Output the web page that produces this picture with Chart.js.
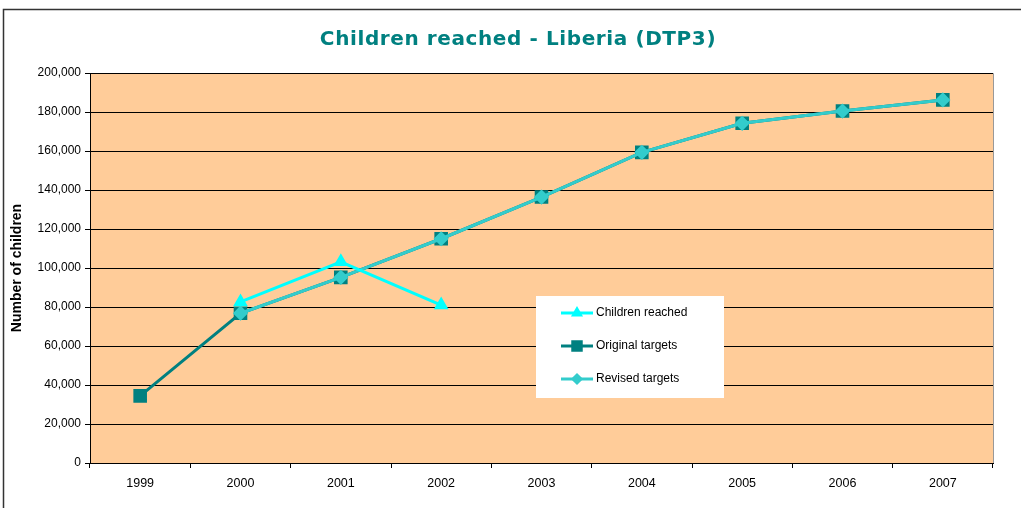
<!DOCTYPE html>
<html>
<head>
<meta charset="utf-8">
<script src="https://cdn.jsdelivr.net/npm/chart.js@4/dist/chart.umd.min.js"></script>
<style>
  html, body { margin: 0; padding: 0; background: #fff; }
  #wrap { width: 1021px; height: 508px; position: relative; }
</style>
</head>
<body>
<div id="wrap"><canvas id="chart" width="1021" height="508"></canvas></div>
<script>
"use strict";
const YEARS = ["1999", "2000", "2001", "2002", "2003", "2004", "2005", "2006", "2007"];
const CHILDREN_REACHED = [null, 82600, 103200, 81000, null, null, null, null, null];
const ORIGINAL_TARGETS = [34400, 76800, 95200, 115000, 136400, 159300, 174200, 180500, 186200];
const REVISED_TARGETS = [null, 76800, 95200, 115000, 136400, 159300, 174200, 180500, 186200];

const TITLE = "Children reached - Liberia (DTP3)";
const Y_TITLE = "Number of children";

// plot background, frame, titles and legend box
const decor = {
  id: "decor",
  beforeDraw(chart) {
    const { ctx, chartArea: a } = chart;
    ctx.save();
    ctx.strokeStyle = "#333";
    ctx.lineWidth = 1.5;
    ctx.strokeRect(3.5, 9.5, 1040, 520);
    ctx.fillStyle = "#FFCC99";
    ctx.fillRect(a.left, a.top, a.right - a.left, a.bottom - a.top);
    ctx.strokeStyle = "#999";
    ctx.lineWidth = 1;
    ctx.beginPath();
    ctx.moveTo(a.left, a.top + 0.5);
    ctx.lineTo(a.right + 0.5, a.top + 0.5);
    ctx.lineTo(a.right + 0.5, a.bottom);
    ctx.stroke();
    ctx.fillStyle = "#008080";
    ctx.font = "bold 20px 'DejaVu Sans'";
    ctx.letterSpacing = "0.6px";
    ctx.textAlign = "center";
    ctx.textBaseline = "middle";
    ctx.fillText(TITLE, 518, 40);
    ctx.letterSpacing = "0px";
    ctx.translate(17, (a.top + a.bottom) / 2);
    ctx.rotate(-Math.PI / 2);
    ctx.fillStyle = "#000";
    ctx.font = "bold 14px 'Liberation Sans'";
    ctx.fillText(Y_TITLE, 0, 0);
    ctx.restore();
  },
  afterDraw(chart) {
    const { ctx } = chart;
    ctx.save();
    ctx.fillStyle = "#fff";
    ctx.fillRect(536, 296, 188, 102);
    const rows = [313, 346, 379];
    ctx.font = "12px 'Liberation Sans'";
    ctx.textBaseline = "middle";
    chart.data.datasets.forEach((ds, i) => {
      const y = rows[i];
      ctx.strokeStyle = ds.borderColor;
      ctx.lineWidth = 3;
      ctx.beginPath();
      ctx.moveTo(561, y);
      ctx.lineTo(593, y);
      ctx.stroke();
      ctx.fillStyle = ds.pointBackgroundColor;
      ctx.strokeStyle = ds.pointBorderColor;
      Chart.helpers.drawPoint(ctx, {
        pointStyle: ds.pointStyle,
        radius: ds.pointRadius - 1.5,
        borderWidth: 1
      }, 577, y);
      ctx.fillStyle = "#000";
      ctx.textAlign = "left";
      ctx.fillText(ds.label, 596, y);
    });
    ctx.restore();
  }
};

new Chart(document.getElementById("chart"), {
  type: "line",
  data: {
    labels: YEARS,
    datasets: [
      {
        label: "Children reached",
        data: CHILDREN_REACHED,
        borderColor: "#00FFFF",
        backgroundColor: "#00FFFF",
        pointBackgroundColor: "#00FFFF",
        pointBorderColor: "#00FFFF",
        pointStyle: "triangle",
        pointRadius: 5.5,
        borderWidth: 3,
        order: 0
      },
      {
        label: "Original targets",
        data: ORIGINAL_TARGETS,
        borderColor: "#008080",
        backgroundColor: "#008080",
        pointBackgroundColor: "#008080",
        pointBorderColor: "#008080",
        pointStyle: "rect",
        pointRadius: 7.5,
        borderWidth: 3,
        order: 2
      },
      {
        label: "Revised targets",
        data: REVISED_TARGETS,
        borderColor: "#33CCCC",
        backgroundColor: "#33CCCC",
        pointBackgroundColor: "#33CCCC",
        pointBorderColor: "#33CCCC",
        pointStyle: "rectRot",
        pointRadius: 5.5,
        borderWidth: 3,
        order: 1
      }
    ]
  },
  options: {
    responsive: false,
    animation: false,
    layout: { padding: { top: 73, right: 28, bottom: 0, left: 0 } },
    plugins: { legend: { display: false }, title: { display: false }, tooltip: { enabled: false } },
    elements: { line: { tension: 0 } },
    scales: {
      x: {
        offset: true,
        grid: { offset: true, drawOnChartArea: false, color: "#000", tickLength: 5 },
        border: { color: "#000", width: 1 },
        ticks: { color: "#000", font: { family: "Liberation Sans", size: 12.5 }, padding: 8, maxRotation: 0 },
        afterFit(s) { s.height = 45; }
      },
      y: {
        min: 0,
        max: 200000,
        ticks: {
          stepSize: 20000,
          color: "#000",
          font: { family: "Liberation Sans", size: 12 },
          padding: 4,
          callback: (v) => v.toLocaleString("en-US")
        },
        grid: { color: "#000", tickLength: 5 },
        border: { color: "#000", width: 1 },
        afterFit(s) { s.width = 90; }
      }
    }
  },
  plugins: [decor]
});
</script>
</body>
</html>
